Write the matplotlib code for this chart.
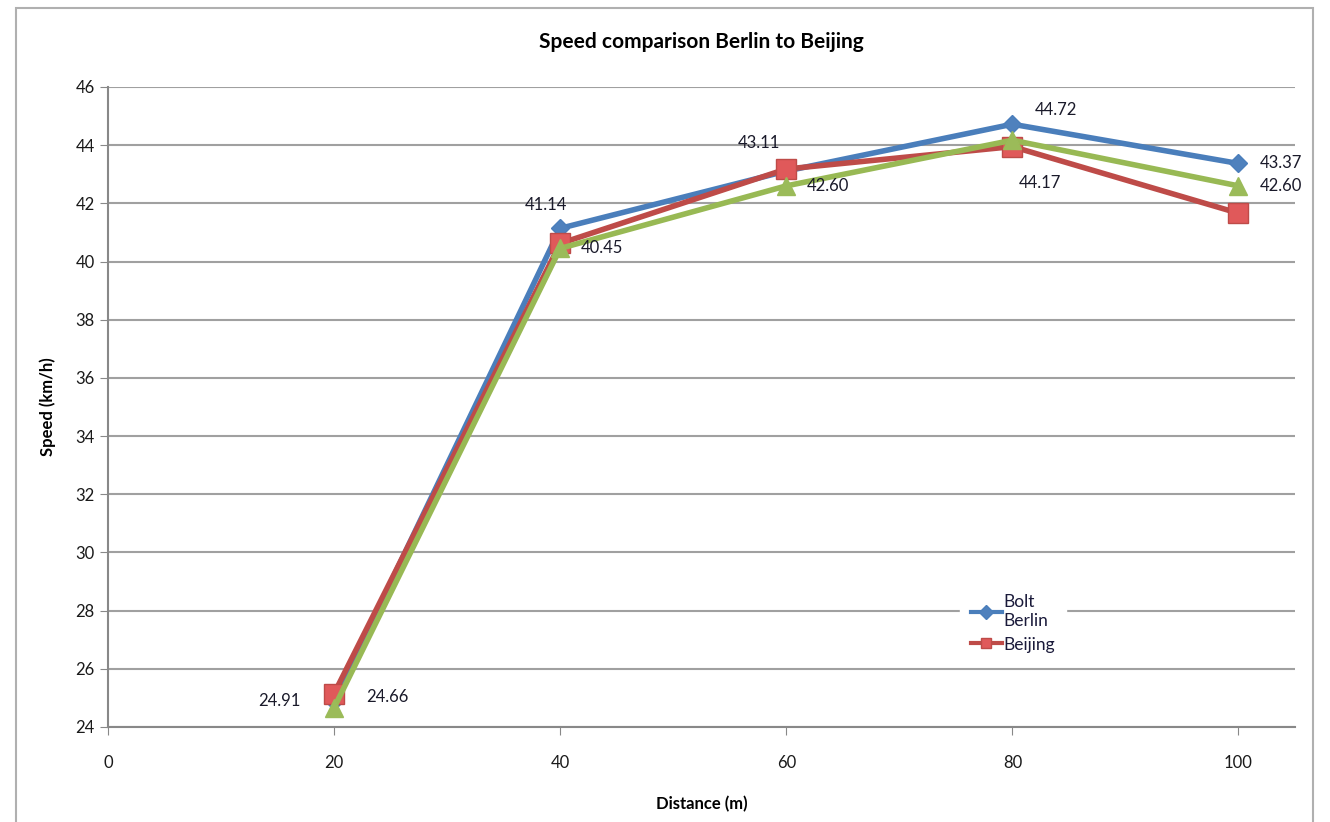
#!/usr/bin/env python

import matplotlib.pyplot as plt
from matplotlib.patches import Rectangle

plt.rcParams['font.family'] = ['Lato', 'DejaVu Sans']

# Data
distance = [20, 40, 60, 80, 100]
bolt_berlin = [24.91, 41.14, 43.11, 44.72, 43.37]
beijing = [25.15, 40.62, 43.18, 43.95, 41.66]
third = [24.66, 40.45, 42.60, 44.17, 42.60]

y_ticks = [24, 26, 28, 30, 32, 34, 36, 38, 40, 42, 44, 46]
x_ticks = [0, 20, 40, 60, 80, 100]

fig = plt.figure(figsize=(13.3, 8.22), dpi=100)
ax = fig.add_axes([0.0812, 0.1156, 0.8925, 0.7786])

# outer chart border
fig.patches.append(Rectangle((0.012, -0.02), 0.975, 1.01, transform=fig.transFigure,
                             fill=False, edgecolor='#b0b0b0', linewidth=1.5))

ax.plot(distance, bolt_berlin, color='#4a7ebb', linewidth=4, marker='D', markersize=9,
        markerfacecolor='#4f81bd', markeredgecolor='#4a7ebb', label='Bolt\nBerlin', zorder=3)
ax.plot(distance, beijing, color='#be4b48', linewidth=4, marker='s', markersize=14,
        markerfacecolor='#e0595a', markeredgecolor='#be4b48', label='Beijing', zorder=3.5)
ax.plot(distance, third, color='#98b954', linewidth=4, marker='^', markersize=13,
        markerfacecolor='#9bbb59', markeredgecolor='#9bbb59', zorder=3.6)

# data labels
blue_off = [(-24, 0), (-10, 17), (-20, 20), (16, 10), (15, 0)]
blue_ha = ['right', 'center', 'center', 'left', 'left']
for x, y, off, ha in zip(distance, bolt_berlin, blue_off, blue_ha):
    ax.annotate(f'{y:.2f}', (x, y), xytext=off, textcoords='offset points',
                ha=ha, va='center', fontsize=12, color='#1a1a2a', zorder=5)
green_off = [(23, 8), (15, 0), (15, 0), (20, -31), (15, 0)]
green_ha = ['left', 'left', 'left', 'center', 'left']
for x, y, off, ha in zip(distance, third, green_off, green_ha):
    ax.annotate(f'{y:.2f}', (x, y), xytext=off, textcoords='offset points',
                ha=ha, va='center', fontsize=12, color='#1a1a2a', zorder=5)

ax.set_xlim(0, 105)
ax.set_ylim(24, 46)
ax.set_xticks(x_ticks)
ax.set_yticks(y_ticks)
ax.tick_params(labelsize=12, colors='#1a1a1a', length=6, color='#888888')
ax.tick_params(axis='x', pad=14)
ax.yaxis.grid(True, color='#a0a0a0', linewidth=1.5)
ax.set_axisbelow(True)
for s in ['top', 'right']:
    ax.spines[s].set_visible(False)
for s in ['left', 'bottom']:
    ax.spines[s].set_color('#888888')
    ax.spines[s].set_linewidth(1.5)

ax.set_title('Speed comparison Berlin to Beijing', fontsize=15, fontweight='bold', pad=28)
ax.set_xlabel('Distance (m)', fontsize=12, fontweight='bold', labelpad=18)
ax.set_ylabel('Speed (km/h)', fontsize=12, fontweight='bold', labelpad=14)

leg = ax.legend(loc='lower left', bbox_to_anchor=(0.718, 0.1),
                frameon=True, fontsize=12.5, handlelength=1.8, handletextpad=0.1,
                borderaxespad=0, labelspacing=0.45, borderpad=0.6)
for h in leg.legend_handles:
    h.set_markersize(7)
    h.set_linewidth(3)
for t in leg.get_texts():
    t.set_color('#1a1a3a')
leg.get_frame().set_edgecolor('white')
leg.get_frame().set_facecolor('white')
leg.get_frame().set_alpha(1)

fig.savefig('out.png', dpi=100)
